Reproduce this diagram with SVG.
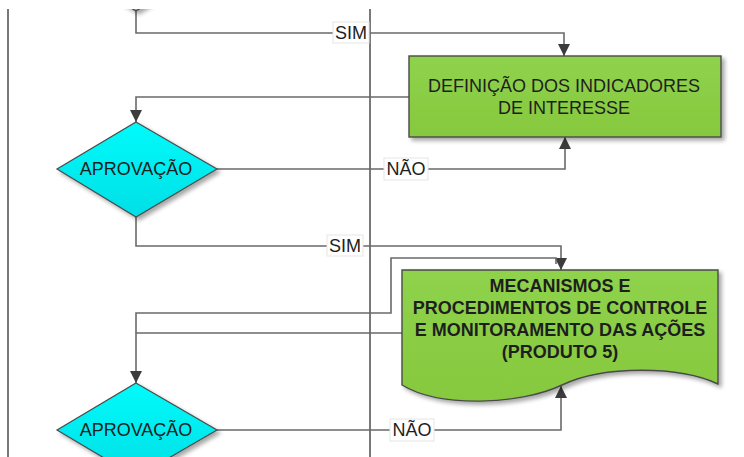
<svg xmlns="http://www.w3.org/2000/svg" width="744" height="457" viewBox="0 0 744 457">
  <defs>
    <style>
      .lane { stroke: #404040; stroke-width: 1.4; fill: none; }
      .conn { stroke: #6a6a6a; stroke-width: 1.6; fill: none; }
      .dec { fill: url(#cyanGrad); stroke: #4a4a4a; stroke-width: 1.2; }
      .proc { fill: url(#greenGrad); stroke: #4a4a4a; stroke-width: 1.4; }
      .txt { font-family: "Liberation Sans", Arial, sans-serif; font-size: 18px; fill: #1e1e1e; text-anchor: middle; }
      .bold { font-weight: bold; }
      .lblbg { fill: #ffffff; stroke: #e6e6e6; stroke-width: 1; }
    </style>
    <linearGradient id="cyanGrad" x1="0" y1="0" x2="0" y2="1">
      <stop offset="0" stop-color="#00fbfb"/>
      <stop offset="1" stop-color="#00dfe6"/>
    </linearGradient>
    <linearGradient id="greenGrad" x1="0" y1="0" x2="0" y2="1">
      <stop offset="0" stop-color="#8fd24c"/>
      <stop offset="1" stop-color="#86c93e"/>
    </linearGradient>
    <filter id="shadow" x="-10%" y="-10%" width="130%" height="140%">
      <feGaussianBlur in="SourceAlpha" stdDeviation="2"/>
      <feOffset dx="3" dy="3" result="b"/>
      <feComponentTransfer><feFuncA type="linear" slope="0.35"/></feComponentTransfer>
      <feMerge><feMergeNode/><feMergeNode in="SourceGraphic"/></feMerge>
    </filter>
    <marker id="arrow" viewBox="0 0 12 12" refX="12" refY="6" markerWidth="12" markerHeight="12" markerUnits="userSpaceOnUse" orient="auto">
      <path d="M0,0 L12,6 L0,12 Z" fill="#3c3c3c"/>
    </marker>
    <clipPath id="page"><rect x="0" y="9" width="744" height="448"/></clipPath>
  </defs>

  <rect width="744" height="457" fill="#ffffff"/>

  <!-- swimlane separators -->
  <g id="lanes">
    <line class="lane" x1="8" y1="9" x2="8" y2="457"/>
    <line class="lane" x1="370" y1="9" x2="370" y2="457"/>
  </g>

  <!-- connectors -->
  <g id="connectors">
    <path class="conn" d="M136,11 V33 H564 V56" marker-end="url(#arrow)"/>
    <path class="conn" d="M409,97 H136 V122" marker-end="url(#arrow)"/>
    <path class="conn" d="M217,169 H565 V137" marker-end="url(#arrow)"/>
    <path class="conn" d="M136,217 V246 H561 V270" marker-end="url(#arrow)"/>
    <path class="conn" d="M136,333 V313 H391 V258 H556 V264"/>
    <path class="conn" d="M402,333 H136 V383" marker-end="url(#arrow)"/>
    <path class="conn" d="M217,430 H561 V386" marker-end="url(#arrow)"/>

    <g id="label-sim-1">
      <rect class="lblbg" x="333" y="22" width="36" height="21"/>
      <text class="txt" x="351" y="39">SIM</text>
    </g>
    <g id="label-nao-1">
      <rect class="lblbg" x="384" y="158" width="44" height="22"/>
      <text class="txt" x="406" y="175">NÃO</text>
    </g>
    <g id="label-sim-2">
      <rect class="lblbg" x="327" y="235" width="36" height="21"/>
      <text class="txt" x="345" y="252">SIM</text>
    </g>
    <g id="label-nao-2">
      <rect class="lblbg" x="390" y="419" width="44" height="22"/>
      <text class="txt" x="412" y="436">NÃO</text>
    </g>
  </g>

  <!-- previous decision (only its lower tip is in view) -->
  <g id="decisao-anterior" clip-path="url(#page)">
    <polygon class="dec" filter="url(#shadow)" points="136,-84 216,-36.5 136,11 56,-36.5"/>
  </g>

  <g id="definicao-indicadores">
    <rect class="proc" filter="url(#shadow)" x="409" y="56" width="312" height="81"/>
    <text class="txt" x="564" y="92">DEFINIÇÃO DOS INDICADORES</text>
    <text class="txt" x="564" y="114">DE INTERESSE</text>
  </g>

  <g id="aprovacao-1">
    <polygon class="dec" filter="url(#shadow)" points="136,122 217,169 136,217 57,169"/>
    <text class="txt" x="136" y="175">APROVAÇÃO</text>
  </g>

  <g id="mecanismos-controle">
    <path class="proc" filter="url(#shadow)" d="M402,270 H718 V384 C680,366 604,365 562,385 C520,405 440,408 402,385 Z"/>
    <text class="txt bold" x="560" y="292">MECANISMOS E</text>
    <text class="txt bold" x="560" y="314">PROCEDIMENTOS DE CONTROLE</text>
    <text class="txt bold" x="560" y="336">E MONITORAMENTO DAS AÇÕES</text>
    <text class="txt bold" x="560" y="358">(PRODUTO 5)</text>
  </g>

  <g id="aprovacao-2">
    <polygon class="dec" filter="url(#shadow)" points="136,383 217,430 136,477 57,430"/>
    <text class="txt" x="136" y="436">APROVAÇÃO</text>
  </g>
</svg>
